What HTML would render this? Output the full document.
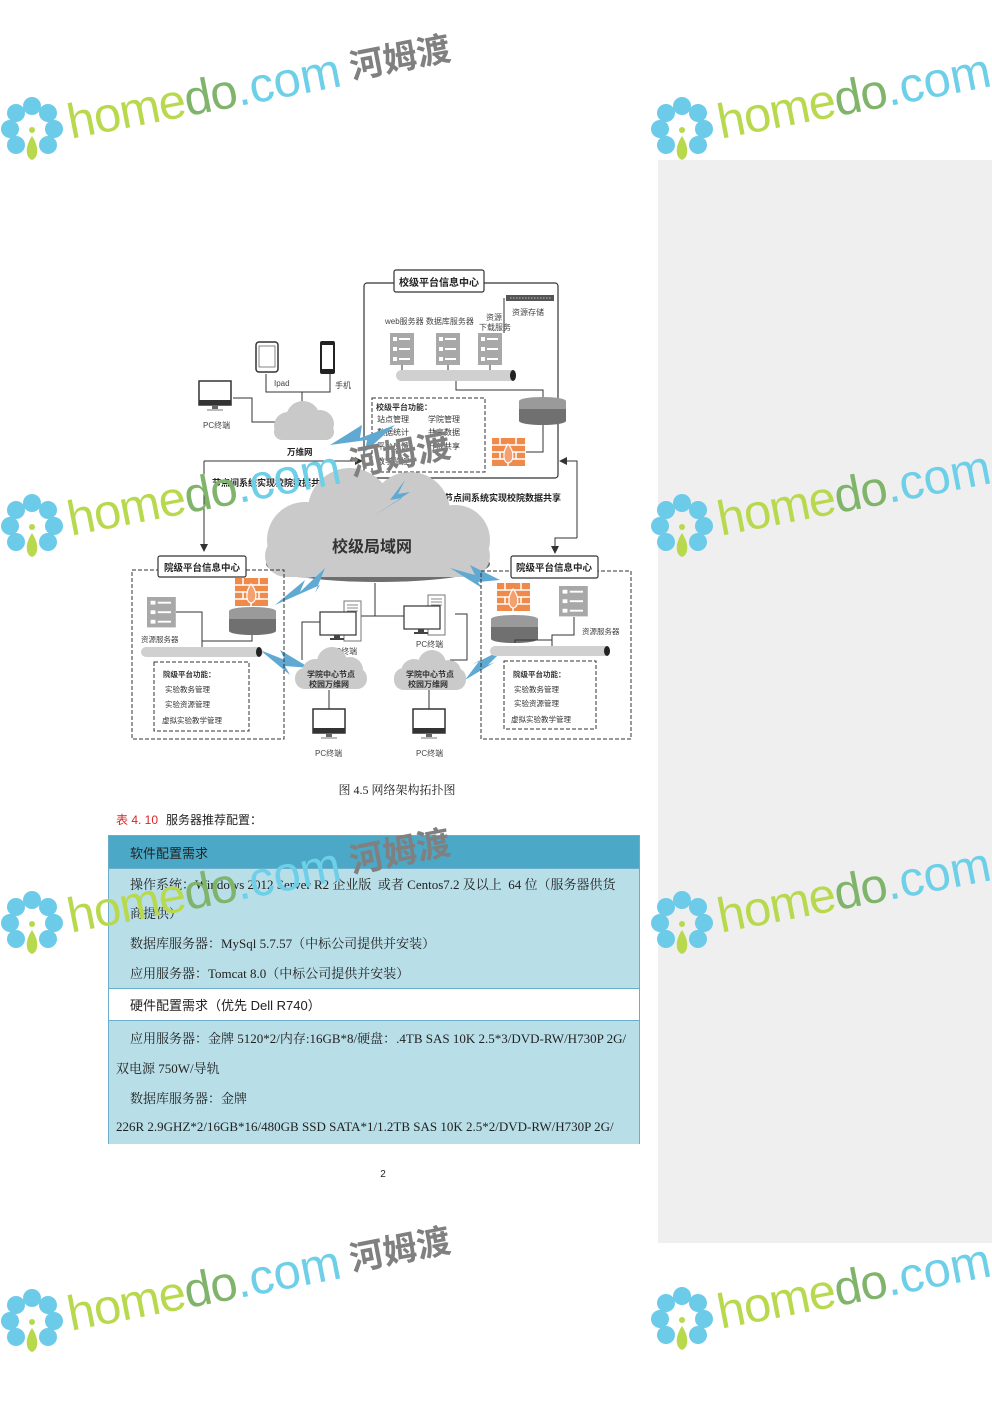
<!DOCTYPE html>
<html><head><meta charset="utf-8"><style>
body{margin:0;width:992px;height:1403px;position:relative;background:#fff;overflow:hidden;font-family:"Liberation Serif","Noto Serif CJK SC",serif}
.gp{position:absolute;left:658px;top:160px;width:334px;height:1083px;background:#efefef}
.wm{position:absolute;transform:rotate(-11deg);transform-origin:0 50%;white-space:nowrap;font-family:"Liberation Sans","Noto Sans CJK SC",sans-serif;height:70px;display:flex;align-items:center}
.wm .h{color:#b8d94e;font-size:49px;letter-spacing:-1px}
.wm .h b{color:#7fb46a;font-weight:normal}
.wm .c{color:#6dcfe8;font-size:49px}
.wm .z{color:#808080;font-size:34px;font-weight:bold;margin-left:10px;position:relative;top:-4px}
.tbl{position:absolute;left:108px;top:835px;width:530px;border:1px solid #6aaecb;font-size:13px;color:#222}
.r{position:absolute;left:0;width:530px}
.t{position:absolute;white-space:nowrap}
</style></head><body>
<div class="gp"></div>

<svg width="992" height="1403" style="position:absolute;left:0;top:0" font-family="Liberation Sans,Noto Sans CJK SC,sans-serif">
<defs>
<marker id="ar" markerWidth="8" markerHeight="8" refX="7" refY="4" orient="auto"><path d="M0,0 L8,4 L0,8z" fill="#333"/></marker>
<g id="srv"><rect x="0" y="0" width="24" height="32" fill="#a8a8a8"/><rect x="3" y="4" width="4" height="4" fill="#fff"/><rect x="9" y="5" width="11" height="2" fill="#fff"/><rect x="3" y="14" width="4" height="4" fill="#fff"/><rect x="9" y="15" width="11" height="2" fill="#fff"/><rect x="3" y="24" width="4" height="4" fill="#fff"/><rect x="9" y="25" width="11" height="2" fill="#fff"/></g>
<g id="fw"><rect x="0" y="0" width="33" height="28" fill="#f08a4b"/><path d="M0,7H33M0,14H33M0,21H33M8,0V7M24,0V7M16,7V14M8,14V21M24,14V21M16,21V28" stroke="#fff" stroke-width="1.5"/><path d="M16,6 C10,14 11,24 16,25 C22,24 23,14 16,6z" fill="#f4a070" stroke="#fff" stroke-width="1.2"/></g>
<g id="db"><rect x="0" y="5" width="47" height="20" fill="#707070"/><ellipse cx="23.5" cy="25" rx="23.5" ry="4" fill="#707070"/><ellipse cx="23.5" cy="5" rx="23.5" ry="4" fill="#9a9a9a"/><rect x="0" y="5" width="47" height="8" fill="#9a9a9a"/></g>
<g id="mon"><rect x="0" y="0" width="32" height="24" fill="#fff" stroke="#333" stroke-width="1.5"/><rect x="0" y="19" width="32" height="5" fill="#333"/><rect x="13" y="24" width="6" height="4" fill="#666"/><rect x="8" y="28" width="16" height="2" fill="#bbb"/></g>
<g id="pc"><rect x="24" y="-11" width="17" height="40" fill="#fff" stroke="#777"/><path d="M27,-7H38M27,-4H38M27,-1H38" stroke="#888"/><rect x="0" y="0" width="36" height="23" fill="#fff" stroke="#333" stroke-width="1.2"/><rect x="14" y="23" width="6" height="3" fill="#444"/><rect x="10" y="26" width="14" height="2" fill="#444"/></g>
<g id="cl"><circle cx="20" cy="26" r="14"/><circle cx="35" cy="18" r="17"/><circle cx="52" cy="24" r="14"/><rect x="6" y="24" width="60" height="16" rx="8"/></g>
</defs>

<rect x="364" y="283" width="194" height="195" rx="3" fill="none" stroke="#333" stroke-width="1.2"/>
<rect x="394" y="270" width="90" height="22" rx="2" fill="#fff" stroke="#333" stroke-width="1.2"/>
<text x="439" y="286" font-size="10" font-weight="bold" text-anchor="middle" fill="#222">校级平台信息中心</text>
<rect x="506" y="295" width="48" height="6" fill="#555"/><path d="M510,298h42" stroke="#bbb" stroke-dasharray="1.5 1.5"/>
<text x="512" y="315" font-size="8" fill="#444">资源存储</text>
<text x="385" y="324" font-size="8" fill="#444">web服务器 数据库服务器</text>
<text x="486" y="320" font-size="8" fill="#444">资源</text><text x="479" y="330" font-size="8" fill="#444">下载服务</text>
<path d="M504,333V298" stroke="#333"/>
<use href="#srv" x="390" y="333"/><use href="#srv" x="436" y="333"/><use href="#srv" x="478" y="333"/>
<path d="M402,365v6M448,365v6M490,365v6" stroke="#333"/>
<rect x="396" y="370" width="120" height="11" rx="5.5" fill="#d0d0d0"/><ellipse cx="513" cy="375.5" rx="3" ry="5.5" fill="#222"/>
<path d="M456,381V390H543V398" stroke="#333" fill="none"/>
<use href="#db" x="519" y="396"/>
<path d="M543,425V452H526" stroke="#333" fill="none"/>
<use href="#fw" x="492" y="438"/>
<rect x="372" y="398" width="113" height="74" fill="none" stroke="#333" stroke-dasharray="4 2"/>
<g font-size="8" fill="#333"><text x="376" y="410" font-weight="bold">校级平台功能：</text>
<text x="377" y="422">站点管理</text><text x="428" y="422">学院管理</text>
<text x="377" y="435">数据统计</text><text x="428" y="435">共享数据</text>
<text x="377" y="449">平台反馈</text><text x="428" y="449">开放共享</text>
<text x="377" y="464">教学监控</text></g>

<rect x="256" y="342" width="22" height="30" rx="3" fill="#fff" stroke="#333" stroke-width="1.5"/><rect x="259" y="346" width="16" height="21" fill="#fff" stroke="#666" stroke-width=".8"/>
<rect x="320" y="341" width="15" height="33" rx="2" fill="#222"/><rect x="322" y="345" width="11" height="24" fill="#fff"/>
<text x="274" y="386" font-size="8" fill="#444">Ipad</text><text x="335" y="388" font-size="8" fill="#444">手机</text>
<path d="M266,374V392H330V374M302,392V408" stroke="#333" fill="none"/>
<use href="#mon" x="199" y="381"/>
<text x="203" y="428" font-size="8" fill="#444">PC终端</text>
<path d="M233,398H252V422H276" stroke="#333" fill="none"/>
<use href="#cl" x="268" y="400" fill="#c9c9c9"/>
<text x="287" y="455" font-size="8.5" font-weight="bold" fill="#222">万维网</text>

<path d="M204,461H362" stroke="#333" fill="none" marker-end="url(#ar)"/>
<path d="M204,461V551" stroke="#333" fill="none" marker-end="url(#ar)"/>
<text x="212" y="486" font-size="9" font-weight="bold" fill="#222">节点间系统实现校院数据共享</text>
<path d="M577,538V461H560" stroke="#333" fill="none" marker-end="url(#ar)"/>
<path d="M577,538H555V553" stroke="#333" fill="none" marker-end="url(#ar)"/>
<text x="444" y="501" font-size="9" font-weight="bold" fill="#222">节点间系统实现校院数据共享</text>

<g fill="#6e6e6e" transform="translate(263,486)"><ellipse cx="115" cy="78" rx="112" ry="18"/></g>
<g fill="#cacaca"><circle cx="305" cy="540" r="38"/><circle cx="350" cy="510" r="42"/><circle cx="410" cy="512" r="40"/><circle cx="455" cy="540" r="35"/><rect x="265" y="535" width="225" height="42" rx="21"/></g>
<text x="372" y="552" font-size="16" font-weight="bold" text-anchor="middle" fill="#333">校级局域网</text>

<g fill="#5fa9d3">
<path d="M330,445 L362,425 L360,438 L395,425 L365,452 L367,440z"/>
<path d="M405,480 L390,500 L402,498 L375,515 L410,492 L398,494z"/>
<path d="M275,605 L305,580 L300,592 L325,568 L315,593 L320,585z"/>
<path d="M450,568 L475,575 L470,565 L500,580 L478,582 L482,588z"/>
<path d="M260,650 L285,660 L280,650 L310,668 L285,666 L290,675z"/>
<path d="M465,680 L480,660 L472,665 L505,648 L488,665 L495,662z"/>
</g>

<rect x="132" y="570" width="152" height="169" fill="none" stroke="#333" stroke-dasharray="4 2"/>
<rect x="158" y="556" width="88" height="21" rx="2" fill="#fff" stroke="#333" stroke-width="1.2"/>
<text x="202" y="571" font-size="9.5" font-weight="bold" text-anchor="middle" fill="#222">院级平台信息中心</text>
<g transform="translate(147,597) scale(1.2,0.95)"><use href="#srv"/></g>
<use href="#fw" x="235" y="578"/>
<use href="#db" x="229" y="606"/>
<path d="M176,612H202V647M252,635V641H202" stroke="#333" fill="none"/>
<text x="141" y="642" font-size="7.5" fill="#444">资源服务器</text>
<rect x="141" y="647" width="122" height="10" rx="5" fill="#d0d0d0"/><ellipse cx="259" cy="652" rx="3" ry="5" fill="#222"/>
<rect x="154" y="662" width="95" height="69" fill="none" stroke="#333" stroke-dasharray="4 2"/>
<g font-size="7.5" fill="#333"><text x="163" y="677" font-weight="bold">院级平台功能：</text><text x="165" y="692">实验教务管理</text><text x="165" y="707">实验资源管理</text><text x="162" y="723">虚拟实验教学管理</text></g>

<rect x="481" y="571" width="150" height="168" fill="none" stroke="#333" stroke-dasharray="4 2"/>
<rect x="511" y="556" width="87" height="22" rx="2" fill="#fff" stroke="#333" stroke-width="1.2"/>
<text x="554" y="571" font-size="9.5" font-weight="bold" text-anchor="middle" fill="#222">院级平台信息中心</text>
<use href="#fw" x="497" y="583"/>
<g transform="translate(559,586) scale(1.2,0.95)"><use href="#srv"/></g>
<use href="#db" x="491" y="614"/>
<path d="M574,617V635H552V646M515,643V640H552" stroke="#333" fill="none"/>
<text x="582" y="634" font-size="7.5" fill="#444">资源服务器</text>
<rect x="490" y="646" width="120" height="10" rx="5" fill="#d0d0d0"/><ellipse cx="607" cy="651" rx="3" ry="5" fill="#222"/>
<rect x="504" y="661" width="92" height="68" fill="none" stroke="#333" stroke-dasharray="4 2"/>
<g font-size="7.5" fill="#333"><text x="513" y="677" font-weight="bold">院级平台功能：</text><text x="514" y="692">实验教务管理</text><text x="514" y="706">实验资源管理</text><text x="511" y="722">虚拟实验教学管理</text></g>

<path d="M375,583V616H404M360,616H375M302,660V622H320M455,614H467V660H450" stroke="#333" fill="none"/>
<use href="#pc" x="320" y="612"/><use href="#pc" x="404" y="606"/>
<text x="330" y="654" font-size="8" fill="#444">PC终端</text><text x="416" y="647" font-size="8" fill="#444">PC终端</text>
<g fill="#cacaca"><circle cx="315" cy="672" r="13"/><circle cx="332" cy="662" r="15"/><circle cx="350" cy="670" r="13"/><rect x="295" y="668" width="72" height="21" rx="10"/></g>
<g fill="#cacaca"><circle cx="414" cy="672" r="13"/><circle cx="432" cy="664" r="14"/><circle cx="449" cy="672" r="12"/><rect x="394" y="668" width="72" height="22" rx="10"/></g>
<g font-size="8" font-weight="bold" fill="#333" text-anchor="middle"><text x="331" y="677">学院中心节点</text><text x="329" y="687">校园万维网</text><text x="430" y="677">学院中心节点</text><text x="428" y="687">校园万维网</text></g>
<path d="M329,690V709M429,690V709" stroke="#333"/>
<use href="#mon" x="313" y="709"/><use href="#mon" x="413" y="709"/>
<text x="315" y="756" font-size="8" fill="#444">PC终端</text><text x="416" y="756" font-size="8" fill="#444">PC终端</text>

<text x="397" y="794" font-size="12" text-anchor="middle" fill="#222" font-family="Liberation Serif,Noto Serif CJK SC,serif">图 4.5 网络架构拓扑图</text>
<text x="116" y="824" font-size="12" fill="#d22" font-family="Liberation Sans,Noto Sans CJK SC,sans-serif">表 4. 10</text>
<text x="166" y="824" font-size="12" fill="#222" font-family="Liberation Sans,Noto Sans CJK SC,sans-serif">服务器推荐配置：</text>
<text x="383" y="1177" font-size="10" text-anchor="middle" fill="#222">2</text>
</svg>

<div class="tbl" style="height:307px">
 <div class="r" style="top:0;height:32px;background:#4ba8c7"></div>
 <div class="r" style="top:32px;height:120px;background:#b8dee8;border-top:1px solid #6aaecb"></div>
 <div class="r" style="top:152px;height:32px;background:#fff;border-top:1px solid #6aaecb"></div>
 <div class="r" style="top:184px;height:123px;background:#b8dee8;border-top:1px solid #6aaecb"></div>
 <div class="t" style="left:21px;top:7px;font-family:'Liberation Sans','Noto Sans CJK SC',sans-serif;font-size:13px;color:#222">软件配置需求</div>
 <div class="t" style="left:21px;top:38px">操作系统：Windows 2012 Server R2 企业版&nbsp; 或者 Centos7.2 及以上&nbsp; 64 位（服务器供货</div>
 <div class="t" style="left:21px;top:67px">商提供）</div>
 <div class="t" style="left:21px;top:97px">数据库服务器：MySql 5.7.57（中标公司提供并安装）</div>
 <div class="t" style="left:21px;top:127px">应用服务器：Tomcat 8.0（中标公司提供并安装）</div>
 <div class="t" style="left:21px;top:159px;font-family:'Liberation Sans','Noto Sans CJK SC',sans-serif">硬件配置需求（优先 Dell R740）</div>
 <div class="t" style="left:21px;top:192px">应用服务器：金牌 5120*2/内存:16GB*8/硬盘：.4TB SAS 10K 2.5*3/DVD-RW/H730P 2G/</div>
 <div class="t" style="left:7px;top:222px">双电源 750W/导轨</div>
 <div class="t" style="left:21px;top:252px">数据库服务器：金牌</div>
 <div class="t" style="left:7px;top:283px">226R 2.9GHZ*2/16GB*16/480GB SSD SATA*1/1.2TB SAS 10K 2.5*2/DVD-RW/H730P 2G/</div>
</div>

<svg width="0" height="0" style="position:absolute"><defs><g id="fl"><g fill="#6ccbe9"><circle cx="0" cy="-22" r="9"/><circle cx="16" cy="-15" r="9"/><circle cx="22" cy="1" r="9"/><circle cx="16" cy="17" r="9"/><circle cx="-16" cy="17" r="9"/><circle cx="-22" cy="1" r="9"/><circle cx="-16" cy="-15" r="9"/></g><path d="M0,8 C-8,20 -6,30 0,32 C6,30 8,20 0,8z" fill="#b8d94e"/><circle cx="0" cy="2" r="3" fill="#b8d94e"/></g></defs></svg>
<div style="position:absolute;left:0;top:0;width:992px;height:1403px">
 <svg width="992" height="1403" style="position:absolute;left:0;top:0">
  <use href="#fl" x="32" y="128"/><use href="#fl" x="32" y="525"/><use href="#fl" x="32" y="922"/><use href="#fl" x="32" y="1320"/>
  <use href="#fl" x="682" y="128"/><use href="#fl" x="682" y="525"/><use href="#fl" x="682" y="922"/><use href="#fl" x="682" y="1318"/>
 </svg>
 <div class="wm" style="left:68px;top:88px"><span class="h">home<b>do</b></span><span class="c">.com</span><span class="z">河姆渡</span></div>
 <div class="wm" style="left:68px;top:485px"><span class="h">home<b>do</b></span><span class="c">.com</span><span class="z">河姆渡</span></div>
 <div class="wm" style="left:68px;top:882px"><span class="h">home<b>do</b></span><span class="c">.com</span><span class="z">河姆渡</span></div>
 <div class="wm" style="left:68px;top:1280px"><span class="h">home<b>do</b></span><span class="c">.com</span><span class="z">河姆渡</span></div>
 <div class="wm" style="left:718px;top:88px"><span class="h">home<b>do</b></span><span class="c">.com</span></div>
 <div class="wm" style="left:718px;top:485px"><span class="h">home<b>do</b></span><span class="c">.com</span></div>
 <div class="wm" style="left:718px;top:882px"><span class="h">home<b>do</b></span><span class="c">.com</span></div>
 <div class="wm" style="left:718px;top:1278px"><span class="h">home<b>do</b></span><span class="c">.com</span></div>
</div>
</body></html>
